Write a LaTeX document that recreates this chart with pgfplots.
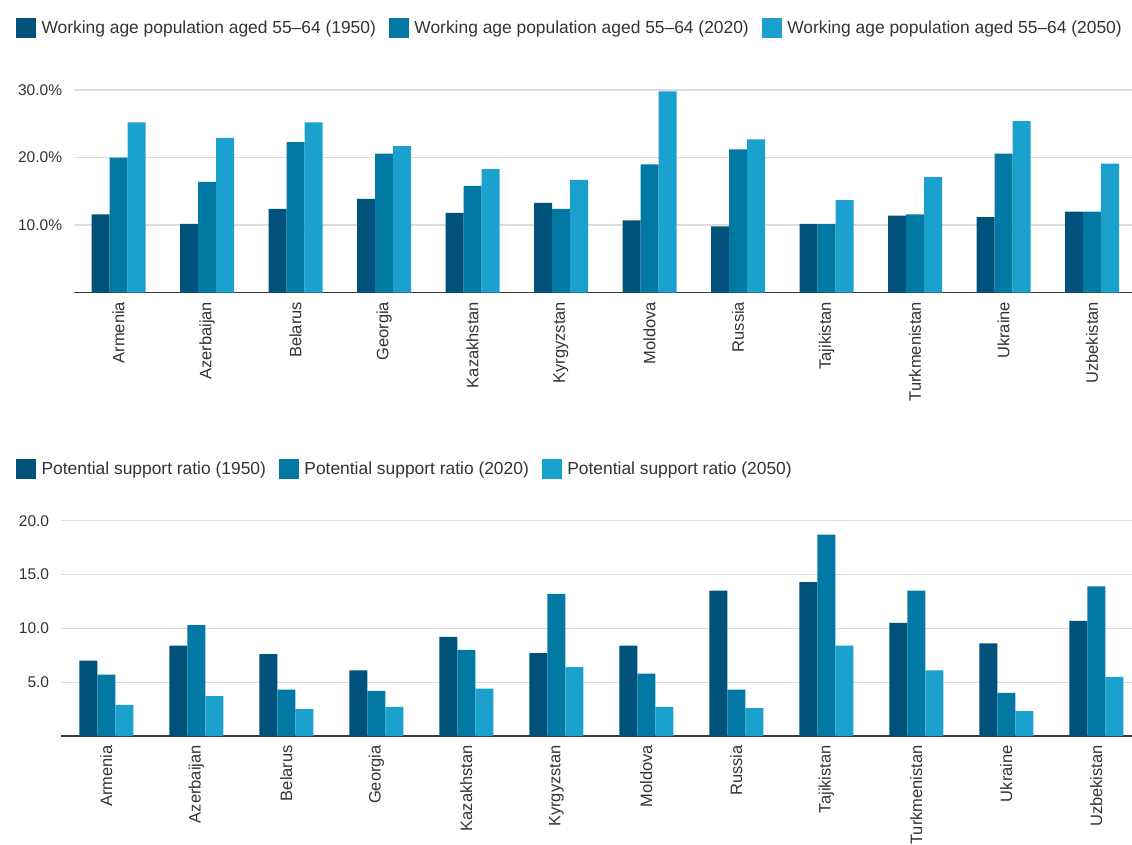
\documentclass[border=0pt]{standalone}
\usepackage{fontspec}
\setmainfont{Liberation Sans}
\usepackage{pgfplots}
\pgfplotsset{compat=1.18}
\usepackage{pgfplotstable}

\definecolor{c1950}{HTML}{00527B}
\definecolor{c2020}{HTML}{0278A5}
\definecolor{c2050}{HTML}{1AA1CE}
\definecolor{gridc}{HTML}{DCDCDC}
\definecolor{axisc}{HTML}{3A3A3A}
\definecolor{txt}{HTML}{333333}

% Share of the working age population aged 55-64 (%)
\pgfplotstableread{
x y1950 y2020 y2050
0  11.6 20.0 25.2
1  10.2 16.4 22.9
2  12.4 22.3 25.2
3  13.9 20.6 21.7
4  11.8 15.8 18.3
5  13.3 12.4 16.7
6  10.7 19.0 29.8
7  9.8  21.2 22.7
8  10.2 10.2 13.7
9  11.4 11.6 17.1
10 11.2 20.6 25.4
11 12.0 12.0 19.1
}\workage

% Potential support ratio
\pgfplotstableread{
x y1950 y2020 y2050
0  7.0  5.7  2.9
1  8.4  10.3 3.7
2  7.6  4.3  2.5
3  6.1  4.2  2.7
4  9.2  8.0  4.4
5  7.7  13.2 6.4
6  8.4  5.8  2.7
7  13.5 4.3  2.6
8  14.3 18.7 8.4
9  10.5 13.5 6.1
10 8.6  4.0  2.3
11 10.7 13.9 5.5
}\support

\pgfplotsset{
  barchart/.style={
    scale only axis,
    ybar=0pt, bar width=18pt,
    xmin=-0.5, xmax=11.5, ymin=0,
    axis x line*=bottom, axis y line*=left,
    y axis line style={draw=none},
    x axis line style={axisc, line width=1.4pt},
    major tick length=0pt,
    ymajorgrids, grid style={gridc, line width=1.3pt},
    xtick={0,...,11},
    xticklabels={Armenia,Azerbaijan,Belarus,Georgia,Kazakhstan,Kyrgyzstan,Moldova,Russia,Tajikistan,Turkmenistan,Ukraine,Uzbekistan},
    xticklabel shift=9pt,
    x tick label style={rotate=90, anchor=east, font=\fontsize{16.5}{18}\selectfont, text=txt, inner sep=0pt},
    yticklabel shift=12pt,
    y tick label style={font=\fontsize{15.5}{18}\selectfont, text=txt, inner sep=0pt},
    /pgf/number format/assume math mode=true,
    legend columns=3,
    legend style={draw=none, fill=none, inner sep=0pt, outer sep=0pt, anchor=west,
      font=\fontsize{17.4}{20}\selectfont, text=txt,
      nodes={inner sep=5.5pt},
      /tikz/every even column/.append style={column sep=7.5pt}},
    legend image code/.code={\fill[##1, draw=none] (0pt,-10pt) rectangle (20pt,10pt);},
  },
}

\begin{document}
\begin{tikzpicture}
\useasboundingbox (0pt,0pt) rectangle (1132pt,844pt);

\begin{axis}[barchart,
  at={(74.25pt,551.3pt)}, anchor=south west,
  width=1062pt, height=202.7pt, ymax=30,
  ytick={10,20,30}, yticklabels={10.0\%,20.0\%,30.0\%},
  legend style={at={(-0.0548,1.306)}},
]
\addplot[fill=c1950, draw=none] table[x=x, y=y1950] {\workage};
\addplot[fill=c2020, draw=none] table[x=x, y=y2020] {\workage};
\addplot[fill=c2050, draw=none] table[x=x, y=y2050] {\workage};
\legend{Working age population aged 55–64 (1950),Working age population aged 55–64 (2020),Working age population aged 55–64 (2050)}
\end{axis}

\begin{axis}[barchart,
  at={(61.3pt,108pt)}, anchor=south west,
  width=1080pt, height=215.3pt, ymax=20,
  ytick={5,10,15,20}, yticklabels={5.0,10.0,15.0,20.0},
  legend style={at={(-0.0419,1.240)}},
]
\addplot[fill=c1950, draw=none] table[x=x, y=y1950] {\support};
\addplot[fill=c2020, draw=none] table[x=x, y=y2020] {\support};
\addplot[fill=c2050, draw=none] table[x=x, y=y2050] {\support};
\legend{Potential support ratio (1950),Potential support ratio (2020),Potential support ratio (2050)}
\end{axis}
\end{tikzpicture}
\end{document}
